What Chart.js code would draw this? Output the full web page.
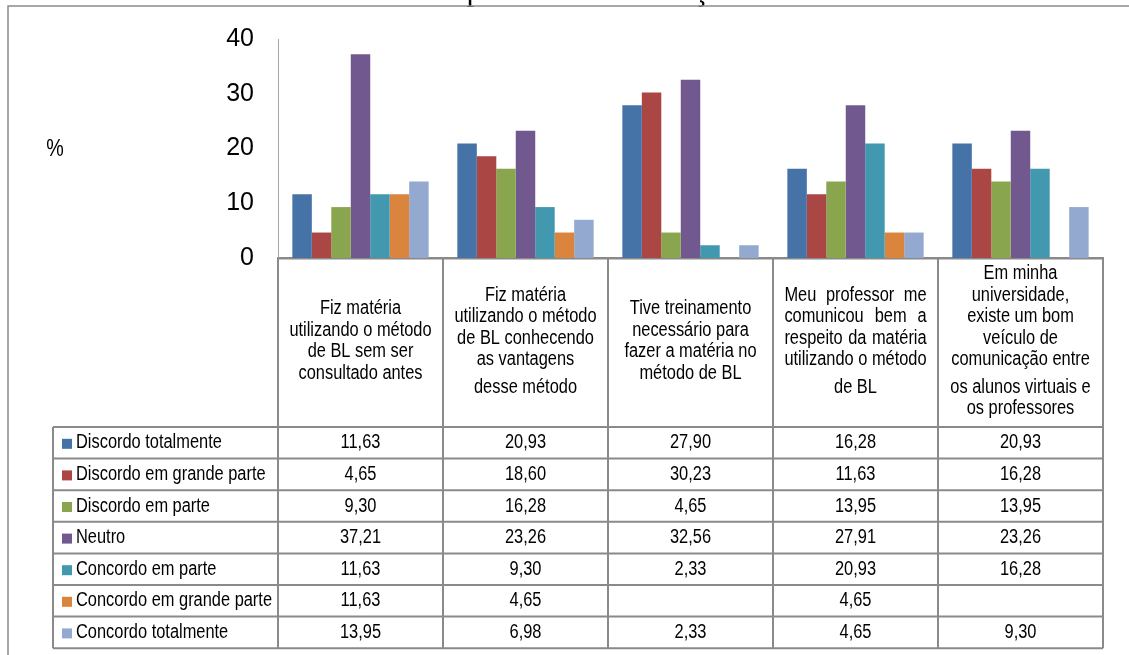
<!DOCTYPE html>
<html>
<head>
<meta charset="utf-8">
<script src="https://cdn.jsdelivr.net/npm/chart.js@4.4.1/dist/chart.umd.min.js"></script>
<style>
  html, body { margin: 0; padding: 0; background: #ffffff; overflow: hidden; }
  #wrap { position: relative; width: 1129px; height: 655px; }
  canvas { position: absolute; left: 0; top: 0; }
</style>
</head>
<body>
<div id="wrap"><canvas id="chart" width="1129" height="655"></canvas></div>
<script>
// ---- Data -------------------------------------------------------------
const chartTitle = "Ensino Superior - Comunicação Interna";
const axisUnit = "%";

// Category headings, split into paragraphs and lines as they appear in the table header
const categoryLines = [
  [["Fiz matéria", "utilizando o método", "de BL sem ser", "consultado antes"]],
  [["Fiz matéria", "utilizando o método", "de BL conhecendo", "as vantagens"], ["desse método"]],
  [["Tive treinamento", "necessário para", "fazer a matéria no", "método de BL"]],
  [["Meu professor me", "comunicou bem a", "respeito da matéria", "utilizando o método"], ["de BL"]],
  [["Em minha", "universidade,", "existe um bom", "veículo de", "comunicação entre"], ["os alunos virtuais e", "os professores"]]
];
const categories = categoryLines.map(p => p.map(l => l.join(" ")).join(" "));

const seriesNames = [
  "Discordo totalmente",
  "Discordo em grande parte",
  "Discordo em parte",
  "Neutro",
  "Concordo em parte",
  "Concordo em grande parte",
  "Concordo totalmente"
];
const discordoTotalmente     = [11.63, 20.93, 27.90, 16.28, 20.93];
const discordoGrandeParte    = [4.65, 18.60, 30.23, 11.63, 16.28];
const discordoParte          = [9.30, 16.28, 4.65, 13.95, 13.95];
const neutro                 = [37.21, 23.26, 32.56, 27.91, 23.26];
const concordoParte          = [11.63, 9.30, 2.33, 20.93, 16.28];
const concordoGrandeParte    = [11.63, 4.65, null, 4.65, null];
const concordoTotalmente     = [13.95, 6.98, 2.33, 4.65, 9.30];
const seriesValues = [discordoTotalmente, discordoGrandeParte, discordoParte, neutro,
                      concordoParte, concordoGrandeParte, concordoTotalmente];

const yTickValues = [0, 10, 20, 30, 40];

// ---- Styling ------------------------------------------------------------
const seriesColors = ["#4572A7", "#AA4643", "#89A54E", "#71588F", "#4198AF", "#DB843D", "#93A9CF"];
const headerAlign = ["center", "center", "center", "justify", "center"];
const SANS = '"Liberation Sans Narrow", "Liberation Sans", Arial, sans-serif';
const LINE_GRAY = "#8a8a8a";

// Detect the condensed face; fall back to a horizontally squeezed regular face
const probe = document.createElement("canvas").getContext("2d");
probe.font = '20px "Liberation Sans Narrow", monospace';
const wNarrow = probe.measureText("Discordo totalmente").width;
probe.font = '20px monospace';
const wMono = probe.measureText("Discordo totalmente").width;
const hasNarrow = Math.abs(wNarrow - wMono) > 0.5;
const squeeze = hasNarrow ? 1 : 0.82;

function drawText(ctx, text, x, y, align) {
  ctx.save();
  ctx.translate(x, y);
  ctx.scale(squeeze, 1);
  ctx.textAlign = align;
  ctx.fillText(text, 0, 0);
  ctx.restore();
}
function textWidth(ctx, text) { return ctx.measureText(text).width * squeeze; }

// ---- Frame, title and data table drawn around the plot -------------------
const tablePlugin = {
  id: "dataTable",
  beforeDraw(chart) {
    const ctx = chart.ctx;
    ctx.save();
    ctx.fillStyle = "#ffffff";
    ctx.fillRect(0, 0, chart.width, chart.height);
    // caption above the frame (only its lowest part falls inside the page)
    ctx.fillStyle = "#000000";
    ctx.font = '31px "Liberation Serif", "Times New Roman", serif';
    ctx.textBaseline = "alphabetic";
    ctx.textAlign = "left";
    ctx.fillText(chartTitle, 340, 0);
    // outer frame
    ctx.strokeStyle = "#8c8c8c";
    ctx.lineWidth = 1.5;
    ctx.beginPath();
    ctx.moveTo(8, chart.height + 2);
    ctx.lineTo(8, 6);
    ctx.lineTo(chart.width + 2, 6);
    ctx.stroke();
    // unit label
    ctx.font = "24px " + SANS;
    ctx.textBaseline = "middle";
    drawText(ctx, axisUnit, 55, 149, "center");
    ctx.restore();
  },
  afterDraw(chart) {
    const ctx = chart.ctx;
    const area = chart.chartArea;
    const xs = chart.scales.x;
    const n = categories.length;
    const colW = (area.right - area.left) / n;
    const headTop = area.bottom;
    const headBottom = headTop + 169;
    const rowH = 31.6;
    const tableBottom = headBottom + rowH * seriesNames.length;
    const legendLeft = 53;

    ctx.save();
    ctx.strokeStyle = LINE_GRAY;
    ctx.lineWidth = 2;
    ctx.beginPath();
    // column boundaries
    for (let i = 0; i <= n; i++) {
      const bx = i < n ? xs.getPixelForValue(i) - colW / 2 : xs.getPixelForValue(n - 1) + colW / 2;
      ctx.moveTo(bx, headTop);
      ctx.lineTo(bx, tableBottom);
    }
    // legend column left edge
    ctx.moveTo(legendLeft, headBottom);
    ctx.lineTo(legendLeft, tableBottom);
    // row boundaries
    for (let r = 0; r <= seriesNames.length; r++) {
      const y = headBottom + r * rowH;
      ctx.moveTo(legendLeft, y);
      ctx.lineTo(area.right, y);
    }
    ctx.stroke();

    ctx.fillStyle = "#000000";
    ctx.font = "20px " + SANS;
    ctx.textBaseline = "middle";

    // header cells
    const lineH = 21.5, paraGap = 6;
    for (let i = 0; i < n; i++) {
      const cx = xs.getPixelForValue(i);
      const paras = categoryLines[i];
      const nLines = paras.reduce((s, p) => s + p.length, 0);
      const blockH = (nLines - 1) * lineH + (paras.length - 1) * paraGap;
      let y = (headTop + headBottom) / 2 - 1.5 - blockH / 2;
      paras.forEach((lines) => {
        const target = Math.max(...lines.map(l => textWidth(ctx, l)));
        lines.forEach(line => {
          const words = line.split(" ");
          if (headerAlign[i] === "justify" && lines.length > 1 && words.length > 1) {
            const wordsW = words.reduce((s, w) => s + textWidth(ctx, w), 0);
            const gap = (target - wordsW) / (words.length - 1);
            let x = cx - target / 2;
            words.forEach(w => {
              drawText(ctx, w, x, y, "left");
              x += textWidth(ctx, w) + gap;
            });
          } else {
            drawText(ctx, line, cx, y, "center");
          }
          y += lineH;
        });
        y += paraGap;
      });
    }

    // series rows: legend key, name and values
    seriesNames.forEach((name, r) => {
      const cy = headBottom + r * rowH + rowH / 2;
      ctx.fillStyle = seriesColors[r];
      ctx.fillRect(62, cy - 4, 10, 10);
      ctx.fillStyle = "#000000";
      drawText(ctx, name, 76, cy, "left");
      seriesValues[r].forEach((v, i) => {
        if (v === null) return;
        drawText(ctx, v.toFixed(2).replace(".", ","), xs.getPixelForValue(i), cy, "center");
      });
    });
    ctx.restore();
  }
};

// ---- Chart ---------------------------------------------------------------
const datasets = seriesNames.map((name, i) => ({
  label: name,
  data: seriesValues[i],
  backgroundColor: seriesColors[i],
  borderWidth: 0,
  categoryPercentage: 0.826,
  barPercentage: 1.0
}));

new Chart(document.getElementById("chart"), {
  type: "bar",
  data: { labels: categories, datasets },
  plugins: [tablePlugin],
  options: {
    responsive: false,
    devicePixelRatio: 1,
    animation: false,
    layout: { padding: { left: 0, right: 26, top: 35.5, bottom: 397 } },
    plugins: { legend: { display: false }, tooltip: { enabled: false }, title: { display: false } },
    scales: {
      x: {
        grid: { display: false, drawTicks: false },
        border: { display: true, color: "#898989", width: 2.5 },
        ticks: { display: false },
        afterFit(scale) { scale.height = 0; }
      },
      y: {
        min: 0,
        max: 40,
        grid: { display: false, drawTicks: false },
        border: { display: true, color: "#a6a6a6", width: 1 },
        afterBuildTicks(scale) { scale.ticks = yTickValues.map(v => ({ value: v })); },
        ticks: {
          padding: 24,
          color: "#000000",
          font: { family: SANS, size: 25 }
        },
        afterFit(scale) { scale.width = 278; }
      }
    }
  }
});
</script>
</body>
</html>
